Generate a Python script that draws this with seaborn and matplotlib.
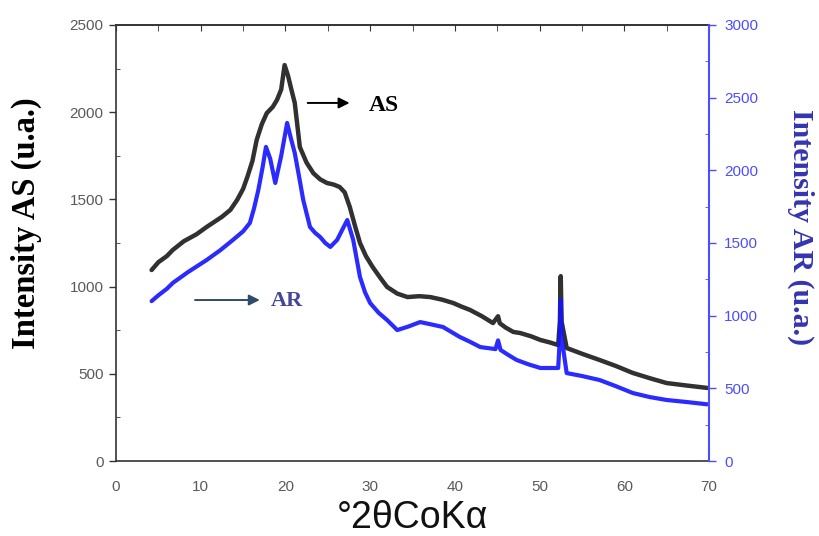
import matplotlib
matplotlib.use("Agg")
import matplotlib.pyplot as plt
import seaborn as sns
import pandas as pd
from matplotlib.ticker import MultipleLocator

# values (degrees 2theta, counts)
as_x = [4.2, 5.0, 6.0, 6.7, 8.0, 9.5, 10.7, 12.5, 13.5, 14.3, 15.0, 15.5, 16.1, 16.6,
        17.2, 17.8, 18.5, 19.0, 19.5, 19.9, 20.3, 20.7, 21.1, 21.7, 22.5, 23.3,
        24.1, 24.9, 25.7, 26.4, 27.0, 27.6, 28.2, 28.8, 29.5, 30.3, 31.2, 32.0,
        33.2, 34.4, 35.8, 37.1, 38.5, 39.8, 40.8, 41.8, 43.2, 44.5, 45.1, 45.3,
        46.0, 46.9, 47.7, 49.0, 50.1, 51.2, 52.2, 52.4, 52.5, 52.6, 53.2, 55.0,
        57.1, 59.0, 61.0, 63.0, 65.0, 67.5, 69.8]
as_y = [1095, 1140, 1175, 1210, 1260, 1300, 1342, 1400, 1440, 1497, 1560, 1628, 1720,
        1840, 1930, 1995, 2030, 2070, 2130, 2270, 2210, 2130, 2053, 1800, 1710, 1650,
        1615, 1594, 1585, 1571, 1540, 1456, 1350, 1250, 1175, 1112, 1050, 998,
        960, 940, 945, 940, 925, 906, 885, 866, 830, 791, 830, 790,
        765, 740, 734, 715, 694, 680, 665, 800, 1060, 800, 648, 615,
        579, 545, 505, 475, 447, 432, 419]

ar_x = [4.2, 5.0, 6.0, 6.7, 8.5, 10.7, 12.3, 13.8, 15.0, 15.8, 16.3, 16.8, 17.3, 17.7,
        18.2, 18.8, 19.5, 20.2, 20.6, 21.1, 21.6, 22.1, 22.9, 23.5, 24.1, 24.7,
        25.3, 26.1, 26.7, 27.3, 28.0, 28.8, 29.4, 30.0, 31.0, 32.0, 33.2, 34.5,
        35.9, 37.2, 38.6, 40.6, 41.8, 43.0, 44.8, 45.1, 45.4, 46.3, 47.3, 48.7,
        50.1, 51.2, 52.2, 52.4, 52.5, 52.6, 53.2, 55.0, 57.1, 59.0, 61.0, 63.0,
        65.0, 67.5, 69.8]
ar_y = [1100, 1140, 1185, 1225, 1300, 1383, 1450, 1521, 1580, 1638, 1740, 1865, 2020, 2161,
        2080, 1913, 2100, 2326, 2230, 2119, 1960, 1796, 1610, 1570, 1541, 1500,
        1473, 1521, 1590, 1658, 1521, 1266, 1160, 1087, 1020, 970, 901, 925,
        956, 940, 922, 853, 820, 784, 770, 830, 764, 730, 695, 665,
        640, 640, 640, 850, 1110, 850, 605, 585, 557, 515, 468, 440,
        420, 405, 390]

left_ticks = [0, 500, 1000, 1500, 2000, 2500]
right_ticks = [0, 500, 1000, 1500, 2000, 2500, 3000]
x_ticks = [0, 10, 20, 30, 40, 50, 60, 70]

sns.set_style("white")
plt.rcParams['font.family'] = ['Liberation Sans', 'DejaVu Sans']

df_as = pd.DataFrame({'x': as_x, 'y': as_y})
df_ar = pd.DataFrame({'x': ar_x, 'y': ar_y})

fig = plt.figure(figsize=(8.2, 5.36), dpi=100)
ax = fig.add_axes([0.1415, 0.1399, 0.7231, 0.8135])
ax2 = ax.twinx()

sns.lineplot(data=df_as, x='x', y='y', ax=ax, color='#1a1a1a', linewidth=3.2,
             sort=False, estimator=None, alpha=0.9)
sns.lineplot(data=df_ar, x='x', y='y', ax=ax2, color='#1414ff', linewidth=3.0,
             sort=False, estimator=None, alpha=0.9)

blue = '#4d4dff'
grey = '#5a5a5a'

ax.set_xlim(0, 70)
ax.set_ylim(0, 2500)
ax2.set_ylim(0, 3000)
ax.set_xticks(x_ticks)
ax.set_yticks(left_ticks)
ax2.set_yticks(right_ticks)
ax.xaxis.set_minor_locator(MultipleLocator(5))
ax.yaxis.set_minor_locator(MultipleLocator(250))
ax2.yaxis.set_minor_locator(MultipleLocator(250))

ax.tick_params(axis='both', which='major', direction='out', length=5, width=1,
               labelsize=11, labelcolor=grey, color='#333333')
ax.tick_params(axis='x', which='minor', direction='out', length=3, color='#333333')
ax.tick_params(axis='y', which='minor', direction='in', length=3, color='#333333')
ax.tick_params(axis='x', pad=9)
ax.tick_params(axis='y', pad=4)
ax2.tick_params(axis='y', which='major', direction='out', length=5, width=1,
                labelsize=11, labelcolor=blue, color=blue, pad=6)
ax2.tick_params(axis='y', which='minor', direction='in', length=3, color=blue)

top = ax.secondary_xaxis('top')
top.set_xticks(x_ticks)
top.xaxis.set_minor_locator(MultipleLocator(5))
top.tick_params(which='both', direction='in', length=4, labeltop=False, color='#333333')
top.spines['top'].set_color('#333333')
top.spines['top'].set_linewidth(1.2)

for s in ['left', 'bottom', 'top']:
    ax.spines[s].set_color('#333333')
    ax.spines[s].set_linewidth(1.2)
ax.spines['right'].set_visible(False)
for s in ['left', 'bottom', 'top']:
    ax2.spines[s].set_visible(False)
ax2.spines['right'].set_color(blue)
ax2.spines['right'].set_linewidth(1.5)

ax.set_xlabel('°2θCoKα', fontsize=27, color='#111111', labelpad=4)
ax.set_ylabel('Intensity AS (u.a.)', fontsize=23.5, fontweight='bold',
              family='Liberation Serif', color='black')
ax.yaxis.set_label_coords(-0.125, 0.546)
ax2.set_ylabel('Intensity AR (u.a.)', fontsize=21.5, fontweight='bold',
               family='Liberation Serif', color='#3434b0', rotation=270, va='bottom')
ax2.yaxis.set_label_coords(1.132, 0.537)

ax.annotate('', xy=(27.9, 2053), xytext=(22.3, 2053), xycoords='data',
            arrowprops=dict(arrowstyle='-|>', color='black', lw=1.4, mutation_scale=16))
ax.annotate('', xy=(17.3, 923), xytext=(9.0, 923), xycoords='data',
            arrowprops=dict(arrowstyle='-|>', color='#2f4a6a', lw=1.4, mutation_scale=16))
ax.text(31.6, 2040, 'AS', fontsize=17, fontweight='bold', family='Liberation Serif',
        color='black', va='center', ha='center')
ax.text(20.2, 915, 'AR', fontsize=16, fontweight='bold', family='Liberation Serif',
        color='#45459a', va='center', ha='center')

fig.savefig('out.png', dpi=100)
